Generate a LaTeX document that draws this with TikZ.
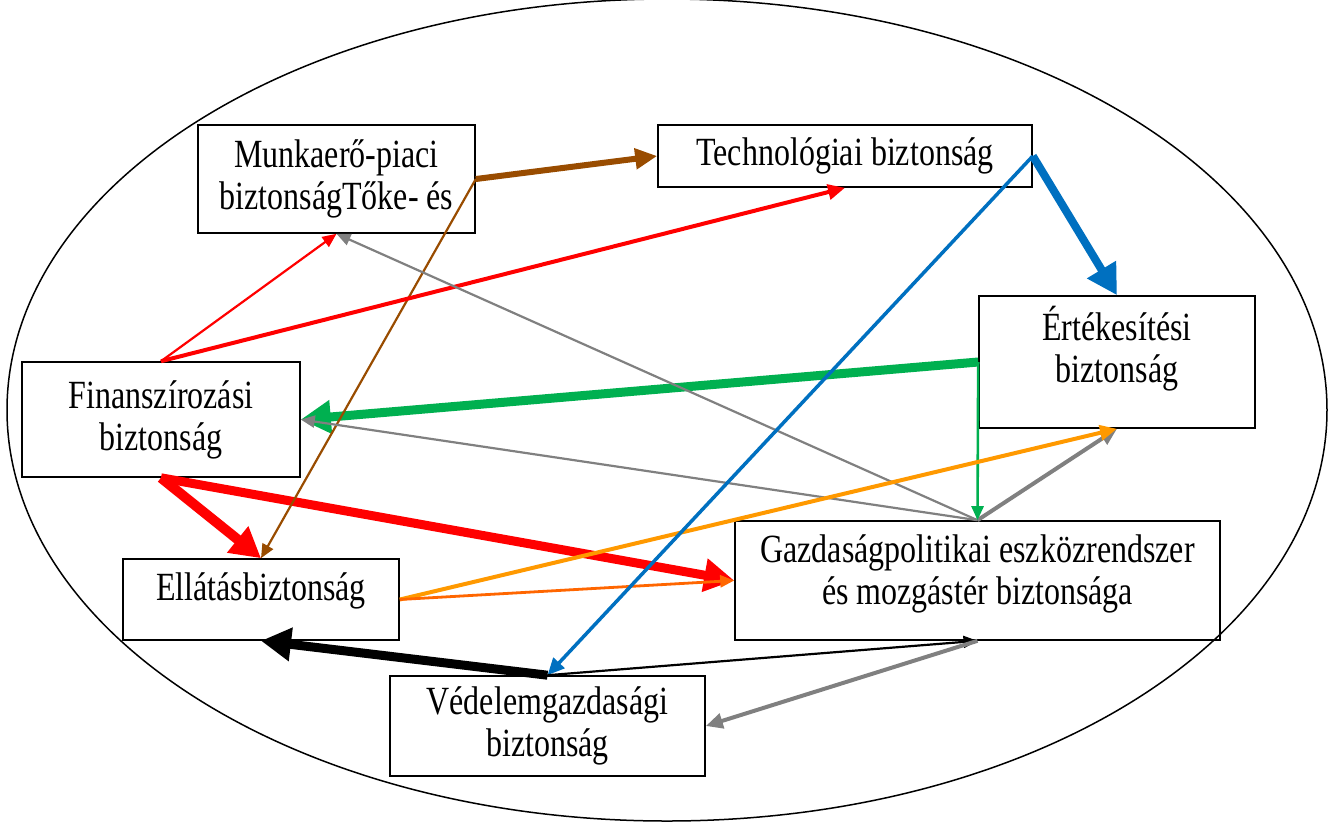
\documentclass[tikz,border=0pt]{standalone}
\usepackage{xcolor}
\usepackage{fontspec}
\setmainfont{Liberation Serif}[FakeStretch=0.8]
\usepackage{tikz}
\usetikzlibrary{arrows.meta}
\definecolor{linkbrown}{RGB}{153,76,0}
\definecolor{linkred}{RGB}{255,0,0}
\definecolor{linkgray}{RGB}{128,128,128}
\definecolor{linkgreen}{RGB}{0,176,80}
\definecolor{linkblue}{RGB}{0,112,192}
\definecolor{linkamber}{RGB}{255,153,0}
\definecolor{linkorange}{RGB}{255,102,0}
\tikzset{
  box/.style={draw,line width=0.8pt,align=center,inner sep=0pt,font=\fontsize{20pt}{21pt}\selectfont},
  thin arrow/.style={line width=1.1pt,-{Triangle[length=7pt,width=6pt]}},
  mid arrow/.style={line width=2pt,-{Triangle[length=8.5pt,width=7.5pt]}},
  thick arrow/.style={line width=3pt,-{Triangle[length=11pt,width=10pt]}},
  heavy arrow/.style={line width=4.5pt,-{Triangle[length=15pt,width=16pt]}}
}
\begin{document}
\begin{tikzpicture}[x=0.5pt,y=-0.5pt]
  \useasboundingbox (0,0) rectangle (1329,821);
  \draw[line width=0.75pt] (667,410) ellipse [x radius=330pt, y radius=205.5pt];

  \node[box,minimum width=138.5pt,minimum height=54pt] (munka) at (336.5,179) {Munkaerő-piaci\\biztonságTőke- és};
  \node[box,minimum width=187pt,minimum height=31pt] (tech) at (845,156) {Technológiai biztonság};
  \node[box,minimum width=138pt,minimum height=66pt,text depth=17.5pt] (ertek) at (1117,362) {Értékesítési\\biztonság};
  \node[box,minimum width=139pt,minimum height=57.5pt] (finansz) at (161,419.5) {Finanszírozási\\biztonság};
  \node[box,minimum width=138pt,minimum height=40.5pt,text depth=13pt] (ellatas) at (261,599.5) {Ellátásbiztonság};
  \node[box,minimum width=242.5pt,minimum height=59.5pt,text depth=10.5pt] (gazd) at (977.5,580.5) {Gazdaságpolitikai eszközrendszer\\és mozgástér biztonsága};
  \node[box,minimum width=157.5pt,minimum height=50pt] (vedelem) at (547.5,726) {Védelemgazdasági\\biztonság};

  \draw[heavy arrow,linkred,line width=5pt] (finansz.south) -- (ellatas.north);
  \draw[heavy arrow,linkred] (finansz.south) -- (gazd.west);
  \draw[heavy arrow,linkgreen] (ertek.west) -- (finansz.east);
  \draw[heavy arrow,linkblue,line width=4pt] (tech.east) -- (ertek.north);
  \draw[heavy arrow,black] (vedelem.north) -- (ellatas.south);
  \draw[thick arrow,linkbrown] (munka.east) -- (tech.west);
  \draw[thin arrow,linkbrown] (munka.east) -- (ellatas.north);
  \draw[thin arrow,linkred] (finansz.north) -- (munka.south);
  \draw[mid arrow,linkred] (finansz.north) -- (tech.south);
  \draw[thin arrow,linkgray] (gazd.north) -- (munka.south);
  \draw[thin arrow,linkgray] (gazd.north) -- (finansz.east);
  \draw[mid arrow,linkgray] (gazd.north) -- (ertek.south);
  \draw[thin arrow,linkgreen,line width=1.3pt] (ertek.west) -- (gazd.north);
  \draw[mid arrow,linkamber] (ellatas.east) -- (ertek.south);
  \draw[thin arrow,linkorange,line width=1.4pt] (ellatas.east) -- (gazd.west);
  \draw[mid arrow,linkblue,line width=1.75pt] (tech.east) -- (vedelem.north);
  \draw[thin arrow,black] (vedelem.north) -- (gazd.south);
  \draw[mid arrow,linkgray] (gazd.south) -- (vedelem.east);
\end{tikzpicture}
\end{document}
